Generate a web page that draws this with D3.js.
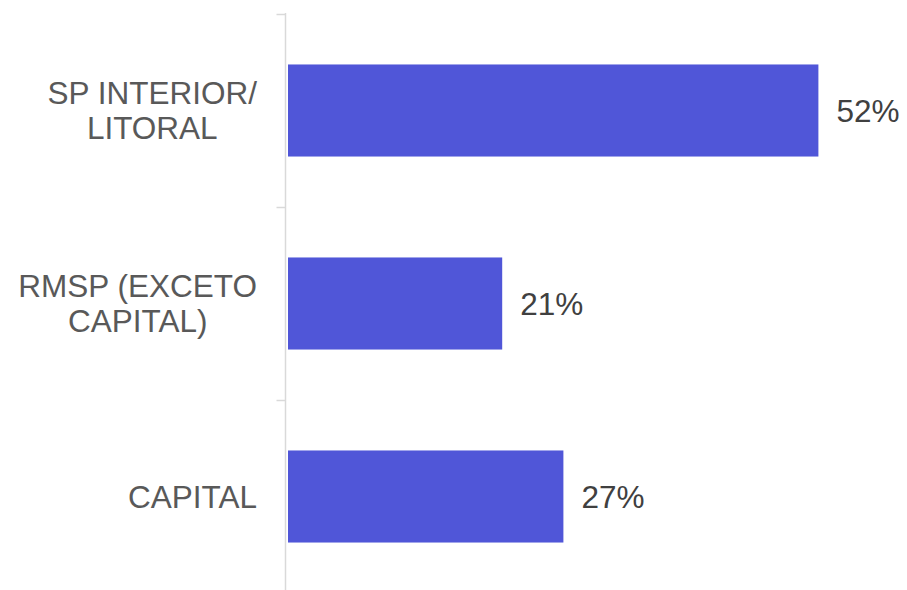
<!DOCTYPE html>
<html>
<head>
<meta charset="utf-8">
<script src="https://cdn.jsdelivr.net/npm/d3@7"></script>
<style>
  html, body { margin: 0; padding: 0; background: #ffffff; }
  svg { display: block; }
  text { font-family: "Liberation Sans", Arial, sans-serif; }
</style>
</head>
<body>
<svg id="chart" width="907" height="590"></svg>
<script>
// Regional distribution (share of respondents, %)
const categories = ["SP INTERIOR/\nLITORAL", "RMSP (EXCETO\nCAPITAL)", "CAPITAL"];
const values = [52, 21, 27];
const valueLabels = ["52%", "21%", "27%"];

const W = 907, H = 590;
const svg = d3.select("#chart");

const axisX = 285.5;
const x = d3.scaleLinear().domain([0, 60]).range([288, 900]);
const y = d3.scaleBand()
  .domain(categories)
  .range([14, 593])
  .paddingInner(0.523)
  .paddingOuter(0.2615);

// bars
svg.append("g").selectAll("rect")
  .data(values)
  .join("rect")
  .attr("x", x(0))
  .attr("y", (d, i) => y(categories[i]))
  .attr("width", d => x(d) - x(0))
  .attr("height", y.bandwidth())
  .attr("fill", "#5056d8");

// value labels
svg.append("g").selectAll("text")
  .data(values)
  .join("text")
  .attr("x", d => x(d) + 18)
  .attr("y", (d, i) => y(categories[i]) + y.bandwidth() / 2)
  .attr("dy", "0.35em")
  .attr("font-size", "31.5px")
  .attr("fill", "#404040")
  .text((d, i) => valueLabels[i]);

// vertical category axis with tick marks at band boundaries
const axis = svg.append("g").attr("stroke", "#d9d9d9").attr("stroke-width", 1.5);
axis.append("line")
  .attr("x1", axisX).attr("x2", axisX)
  .attr("y1", 13).attr("y2", H + 5);
const bounds = categories.map(c => y(c) - y.step() * y.paddingOuter())
  .concat([y.range()[1]]);
axis.selectAll("line.tick")
  .data(bounds)
  .join("line")
  .attr("class", "tick")
  .attr("x1", axisX - 9).attr("x2", axisX)
  .attr("y1", d => Math.round(d) + 0.5).attr("y2", d => Math.round(d) + 0.5);

// category labels: block right-aligned, lines centered within the block
const lineH = 35;
const labelRight = 257;
categories.forEach(cat => {
  const lines = cat.split("\n");
  const cy = y(cat) + y.bandwidth() / 2;
  const t = svg.append("text")
    .attr("font-size", "31.5px")
    .attr("fill", "#595959")
    .attr("text-anchor", "middle");
  const spans = lines.map((ln, j) => t.append("tspan")
    .attr("y", cy + (j - (lines.length - 1) / 2) * lineH)
    .attr("dy", "0.35em")
    .text(ln));
  const maxW = d3.max(spans, s => s.node().getComputedTextLength());
  spans.forEach(s => s.attr("x", labelRight - maxW / 2));
});
</script>
</body>
</html>
